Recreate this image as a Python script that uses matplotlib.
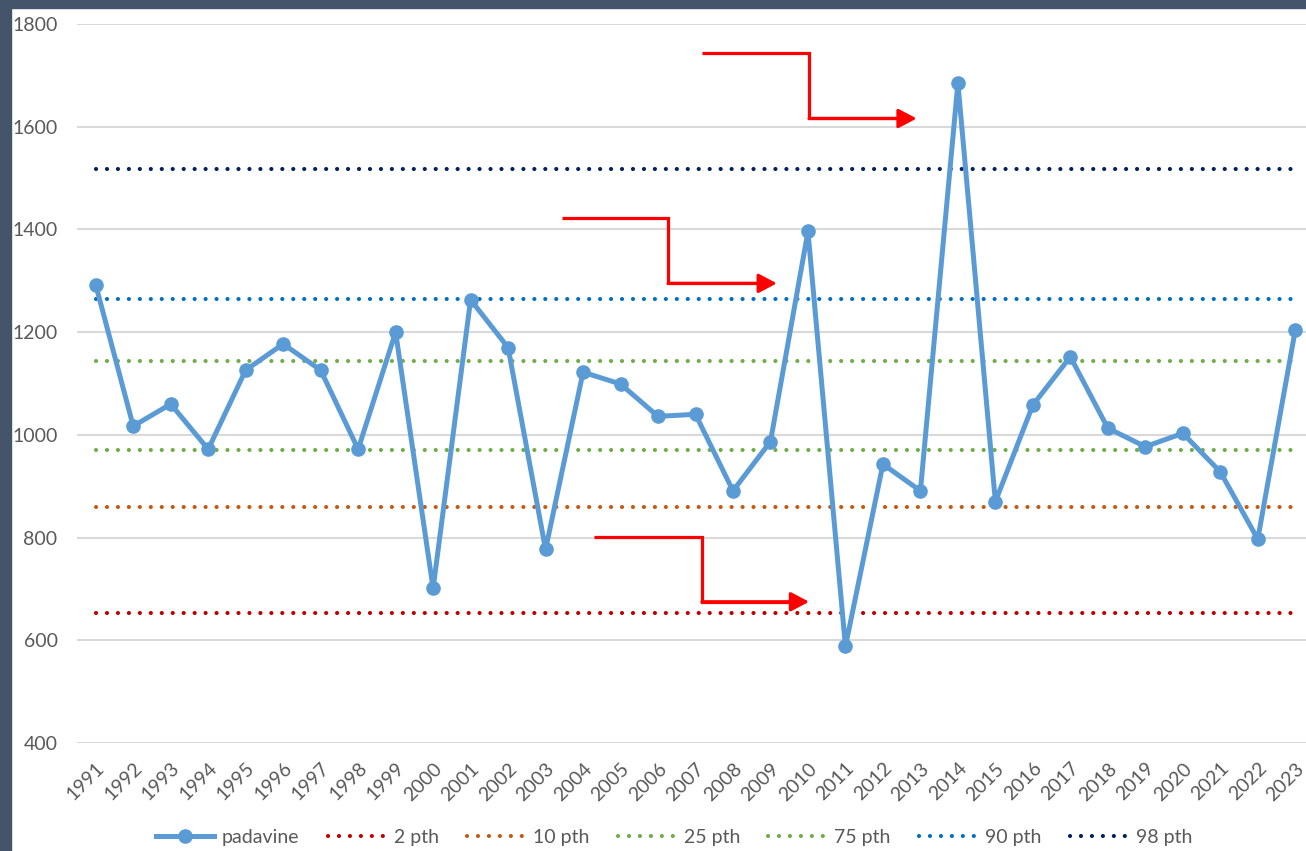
import matplotlib
matplotlib.use("Agg")
import matplotlib.pyplot as plt
import numpy as np
from matplotlib.patches import Rectangle

years = list(range(1991, 2024))
padavine = [1292, 1017, 1060, 972, 1126, 1177, 1126, 972, 1200, 701,
            1263, 1170, 777, 1122, 1099, 1036, 1040, 891, 987, 1396,
            588, 943, 891, 1685, 870, 1058, 1152, 1013, 977, 1003,
            928, 797, 1204]

pct_labels = ["2 pth", "10 pth", "25 pth", "75 pth", "90 pth", "98 pth"]
pct_values = [653, 860, 971, 1144, 1265, 1518]
pct_colors = ["#C00000", "#C55A11", "#70AD47", "#70AD47", "#0070C0", "#002060"]

# annotation arrows (x index, value): start, corner, tip
arrows = [
    ((16.17, 1743), 19.03, (21.90, 1616)),
    ((12.44, 1422), 15.27, (18.17, 1295)),
    ((13.29, 802), 16.17, (19.03, 675)),
]

plt.rcParams['font.family'] = ['Lato', 'DejaVu Sans']
W, H = 1306, 851
fig = plt.figure(figsize=(W / 100, H / 100), dpi=100)
fig.patch.set_facecolor("white")

# dark frame strips
border = "#44546A"
fig.add_artist(Rectangle((0, 0), 11 / W, 1, transform=fig.transFigure, color=border, zorder=0))
fig.add_artist(Rectangle((0, 1 - 8 / H), 1, 8 / H, transform=fig.transFigure, color=border, zorder=0))

left = 77 / W
right = 1314 / W
bottom = (H - 743) / H
top = (H - 24) / H
ax = fig.add_axes([left, bottom, right - left, top - bottom])
ax.set_facecolor("white")

x = np.arange(len(years))
ax.plot(x, padavine, color="#5B9BD5", lw=3.6, marker="o", ms=9.5,
        solid_joinstyle="round", label="padavine", zorder=5)

for lab, val, col in zip(pct_labels, pct_values, pct_colors):
    ax.plot(x, np.full(len(x), val), color=col, lw=3.0,
            linestyle=(0, (0.01, 2.62)), dash_capstyle="round", label=lab, zorder=3)

for (sx, sy), cx, (tx, ty) in arrows:
    ax.plot([sx, cx, cx, tx - 0.3], [sy, sy, ty, ty], color="#FF0000", lw=2.3,
            solid_joinstyle="miter", solid_capstyle="butt", zorder=6)
    ax.annotate("", xy=(tx, ty), xytext=(cx, ty),
                arrowprops=dict(arrowstyle="-|>,head_length=1.1,head_width=0.58",
                                mutation_scale=10, color="#FF0000", lw=2.3,
                                shrinkA=0, shrinkB=0), zorder=6)

ax.set_xlim(-0.5, len(years) - 0.5)
ax.set_ylim(400, 1800)
ax.set_yticks(np.arange(400, 1801, 200))
ax.set_xticks(x)
ax.set_xticklabels([str(y) for y in years], rotation=45, ha="right",
                   rotation_mode="anchor", fontsize=14, color="#595959")
ax.tick_params(axis="y", length=0, pad=14, labelsize=14, labelcolor="#595959")
ax.tick_params(axis="x", length=0, pad=12)
ax.grid(axis="y", color="#D9D9D9", lw=1.5)
ax.set_axisbelow(True)
for s in ax.spines.values():
    s.set_visible(False)

leg = fig.legend(loc="center", bbox_to_anchor=(674 / W, 1 - 837 / H), ncol=7,
                 frameon=False, fontsize=14, handlelength=3.0, columnspacing=1.45,
                 handletextpad=0.4, labelcolor="#595959")

fig.savefig("out.png", dpi=100, facecolor="white")
